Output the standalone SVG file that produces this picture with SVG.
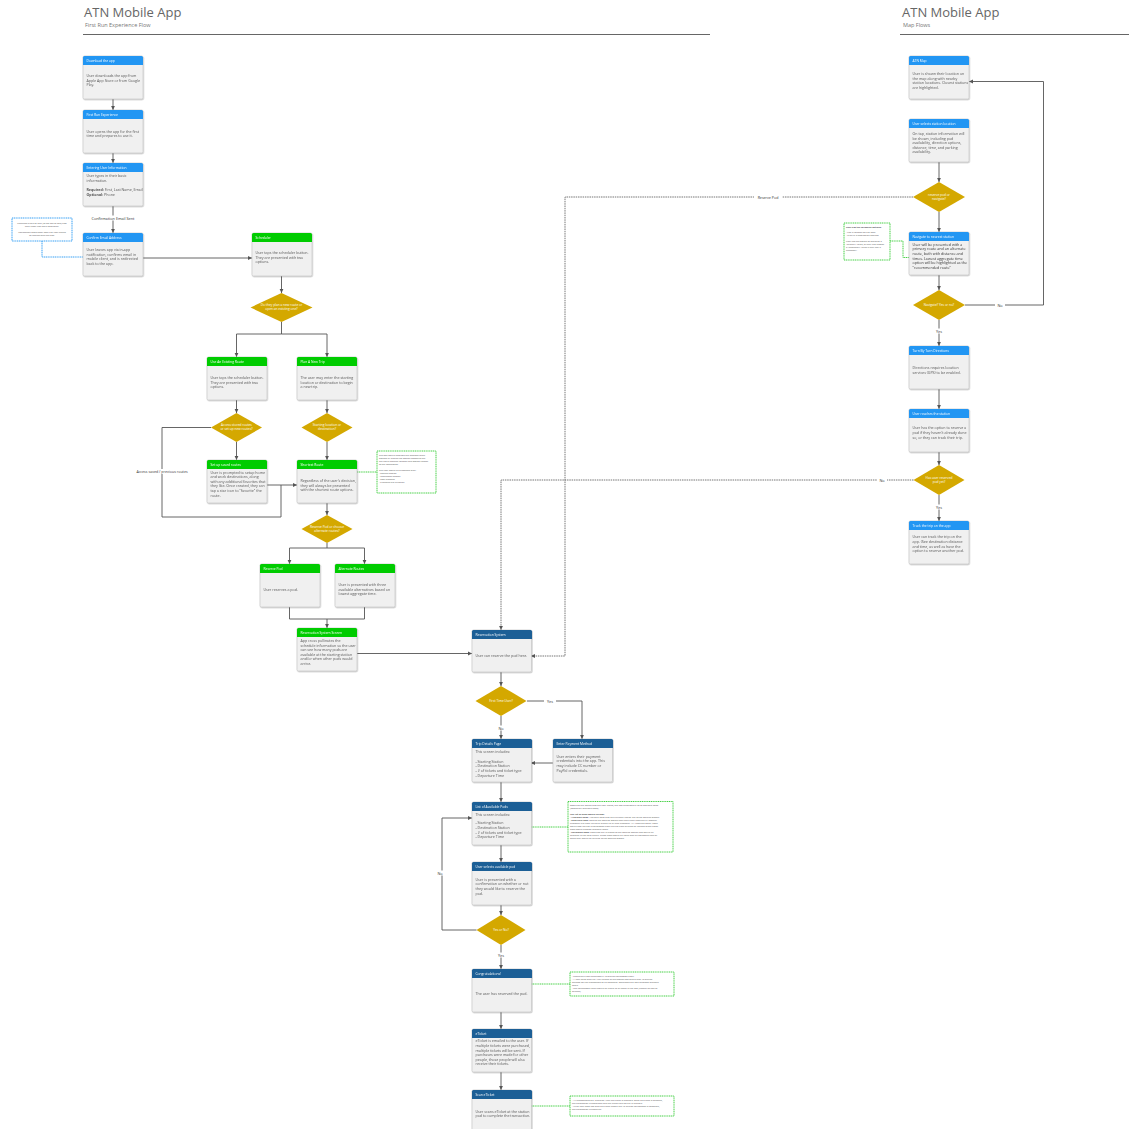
<svg xmlns="http://www.w3.org/2000/svg" xmlns:xlink="http://www.w3.org/1999/xlink" width="1129" height="1129" viewBox="0 0 1129 1129">
<style>
text{font-family:"Open Sans","Liberation Sans",sans-serif}
.card{fill:#f0f0f0;stroke:#c4c4c4;stroke-width:0.6}
.blue{fill:#2196f3}.green{fill:#00cc00}.navy{fill:#1a5e96}
.h{font-size:3.3px;fill:#fff}
.b{font-size:3.6px;fill:#555}
.bd{font-size:3.7px;fill:#333}
.dt{font-size:3.2px;fill:#fff;text-anchor:middle}
.dia{fill:#d4a800}
.c{fill:none;stroke:#555;stroke-width:0.9}
.dash{fill:none;stroke:#666;stroke-width:0.9;stroke-dasharray:1.5,0.8}
.gd{fill:none;stroke:#33cc33;stroke-width:0.9;stroke-dasharray:1.2,0.6}
.bdl{fill:none;stroke:#2196f3;stroke-width:0.9;stroke-dasharray:1.2,0.6}
.gn{fill:#fff;stroke:#33cc33;stroke-width:0.9;stroke-dasharray:1.2,0.6}
.bn{fill:#fff;stroke:#2196f3;stroke-width:0.9;stroke-dasharray:1.2,0.6}
.n{font-size:2.3px;fill:#555}
.l{font-size:3.8px;fill:#333;text-anchor:middle}
.lb{fill:#fff}
.t1{font-size:13px;fill:#666}
.t2{font-size:5.5px;fill:#777}
</style>
<defs>
<filter id="sh" x="-10%" y="-10%" width="130%" height="130%"><feDropShadow dx="0.5" dy="0.8" stdDeviation="0.6" flood-color="#000" flood-opacity="0.3"/></filter>
<marker id="ar" markerUnits="userSpaceOnUse" markerWidth="5" markerHeight="5" refX="4" refY="2.5" orient="auto"><path d="M0,0.6 L4,2.5 L0,4.4 Z" fill="#555"/></marker>
<path id="hd" d="M0,9 V1.5 Q0,0 1.5,0 H58.5 Q60,0 60,1.5 V9 Z"/>
</defs>

<g id="titles">
<text class="t1" x="84" y="17">ATN Mobile App</text>
<text class="t2" x="85" y="27">First Run Experience Flow</text>
<line x1="83" y1="34.5" x2="710" y2="34.5" stroke="#666" stroke-width="1.2"/>
<text class="t1" x="902" y="17">ATN Mobile App</text>
<text class="t2" x="903" y="27">Map Flows</text>
<line x1="900" y1="34.5" x2="1129" y2="34.5" stroke="#666" stroke-width="1.2"/>
</g>

<g id="connectors">
<path class="c" d="M113,99 V110" marker-end="url(#ar)"/>
<path class="c" d="M113,153 V163" marker-end="url(#ar)"/>
<path class="c" d="M113,206 V233" marker-end="url(#ar)"/>
<rect class="lb" x="92" y="215.5" width="42" height="5"/>
<text class="l" x="113" y="219.5">Confirmation Email Sent</text>
<path class="c" d="M143,258 H252" marker-end="url(#ar)"/>
<path class="bdl" d="M42,241 V257 H83"/>
<path class="c" d="M281.5,276 V293" marker-end="url(#ar)"/>
<path class="c" d="M281.5,322 V334 H236.5 V357" marker-end="url(#ar)"/>
<path class="c" d="M281.5,334 H327 V357" marker-end="url(#ar)"/>
<path class="c" d="M236.5,400 V413" marker-end="url(#ar)"/>
<path class="c" d="M327,400 V413" marker-end="url(#ar)"/>
<path class="c" d="M236.5,442 V460" marker-end="url(#ar)"/>
<path class="c" d="M327,442 V460" marker-end="url(#ar)"/>
<path class="c" d="M211,427.5 H162 V517 H281 V485"/>
<path class="c" d="M267,485 H297" marker-end="url(#ar)" stroke="#222" stroke-width="1.1"/>
<rect class="lb" x="136" y="469" width="52" height="5"/>
<text class="l" x="162" y="473" style="font-size:3.6px">Access saved / previous routes</text>
<path class="gd" d="M357,472 H377"/>
<path class="c" d="M327,503 V515" marker-end="url(#ar)"/>
<path class="c" d="M327,543 V548 H289.5 V564" marker-end="url(#ar)"/>
<path class="c" d="M327,548 H364.5 V564" marker-end="url(#ar)"/>
<path class="c" d="M289.5,607 V619 H364.5 V607"/>
<path class="c" d="M327,619 V628" marker-end="url(#ar)"/>
<path class="c" d="M357,653.5 H472" marker-end="url(#ar)"/>

<path class="c" d="M939,162 V182" marker-end="url(#ar)"/>
<path class="c" d="M939,212 V232" marker-end="url(#ar)"/>
<path class="c" d="M939,275 V290" marker-end="url(#ar)"/>
<path class="c" d="M965,305 H1043.5 V81.5 H969" marker-end="url(#ar)"/>
<rect class="lb" x="995" y="302.5" width="10" height="5"/>
<text class="l" x="1000" y="306.5">No</text>
<path class="c" d="M939,320 V346" marker-end="url(#ar)"/>
<rect class="lb" x="933" y="328.5" width="12" height="5"/>
<text class="l" x="939" y="332.5">Yes</text>
<path class="c" d="M939,388 V409" marker-end="url(#ar)"/>
<path class="c" d="M939,452 V465" marker-end="url(#ar)"/>
<path class="c" d="M939,495 V521" marker-end="url(#ar)"/>
<rect class="lb" x="933" y="504.5" width="12" height="5"/>
<text class="l" x="939" y="508.5">Yes</text>
<path class="gd" d="M890,241 H903 V257.5 H909"/>
<path class="dash" d="M913,197 H565 V656 H531" marker-end="url(#ar)"/>
<rect class="lb" x="754" y="194.5" width="28" height="5"/>
<text class="l" x="768" y="198.5" style="font-size:3.6px">Reserve Pod</text>
<path class="dash" d="M913.5,480 H501 V630" marker-end="url(#ar)"/>
<rect class="lb" x="877" y="477.5" width="10" height="5"/>
<text class="l" x="882" y="481.5">No</text>

<path class="c" d="M501,672 V686" marker-end="url(#ar)"/>
<path class="c" d="M527,701 H582 V739" marker-end="url(#ar)"/>
<rect class="lb" x="544" y="698.5" width="12" height="5"/>
<text class="l" x="550" y="702.5">Yes</text>
<path class="c" d="M501,716 V739" marker-end="url(#ar)"/>
<rect class="lb" x="496" y="725.5" width="10" height="5"/>
<text class="l" x="501" y="729.5">No</text>
<path class="c" d="M553,763 H531" marker-end="url(#ar)" stroke="#222" stroke-width="1.1"/>
<path class="c" d="M501,782 V802" marker-end="url(#ar)"/>
<path class="gd" d="M531,827 H568"/>
<path class="c" d="M501,845 V862" marker-end="url(#ar)"/>
<path class="c" d="M501,905 V915" marker-end="url(#ar)"/>
<path class="c" d="M476.5,930 H442 V818 H472" marker-end="url(#ar)"/>
<rect class="lb" x="435" y="870.5" width="10" height="5"/>
<text class="l" x="440" y="874.5">No</text>
<path class="c" d="M501,945 V969" marker-end="url(#ar)"/>
<rect class="lb" x="495" y="952.5" width="12" height="5"/>
<text class="l" x="501" y="956.5">Yes</text>
<path class="gd" d="M531,984 H570"/>
<path class="c" d="M501,1012 V1029" marker-end="url(#ar)"/>
<path class="c" d="M501,1072 V1090" marker-end="url(#ar)"/>
<path class="gd" d="M531,1106 H570"/>
</g>

<!-- Left column nodes -->
<g id="n1" transform="translate(83,56)" filter="url(#sh)">
<rect class="card" width="60" height="43" rx="1.5"/><use href="#hd" class="blue"/>
<text class="h" x="3.5" y="6">Download the app</text>
<text class="b"><tspan x="3.5" y="21">User downloads the app from</tspan><tspan x="3.5" y="25.6">Apple App Store or from Google</tspan><tspan x="3.5" y="30.2">Play.</tspan></text>
</g>
<g id="n2" transform="translate(83,110)" filter="url(#sh)">
<rect class="card" width="60" height="43" rx="1.5"/><use href="#hd" class="blue"/>
<text class="h" x="3.5" y="6">First Run Experience</text>
<text class="b"><tspan x="3.5" y="22.7">User opens the app for the first</tspan><tspan x="3.5" y="27.3">time and prepares to use it.</tspan></text>
</g>
<g id="n3" transform="translate(83,163)" filter="url(#sh)">
<rect class="card" width="60" height="43" rx="1.5"/><use href="#hd" class="blue"/>
<text class="h" x="3.5" y="6">Entering User Information</text>
<text class="b"><tspan x="3.5" y="14">User types in their basic</tspan><tspan x="3.5" y="18.6">information.</tspan><tspan x="3.5" y="28"><tspan font-weight="bold">Required:</tspan> First, Last Name, Email</tspan><tspan x="3.5" y="32.6"><tspan font-weight="bold">Optional:</tspan> Phone</tspan></text>
</g>
<g id="note-email">
<rect class="bn" x="12" y="218" width="60" height="23"/>
<text class="n" text-anchor="middle"><tspan x="42" y="224">Feedback given to user (at the top of app) that</tspan><tspan x="42" y="227">their email has been confirmed.</tspan><tspan x="42" y="233">Notification fades away after the user begins</tspan><tspan x="42" y="236">to interact with the app.</tspan></text>
</g>
<g id="n4" transform="translate(83,233)" filter="url(#sh)">
<rect class="card" width="60" height="43" rx="1.5"/><use href="#hd" class="blue"/>
<text class="h" x="3.5" y="6">Confirm Email Address</text>
<text class="b"><tspan x="3.5" y="18">User leaves app via in-app</tspan><tspan x="3.5" y="22.6">notification, confirms email in</tspan><tspan x="3.5" y="27.2">mobile client, and is redirected</tspan><tspan x="3.5" y="31.8">back to the app.</tspan></text>
</g>
<g id="n5" transform="translate(252,233)" filter="url(#sh)">
<rect class="card" width="60" height="43" rx="1.5"/><use href="#hd" class="green"/>
<text class="h" x="3.5" y="6">Scheduler</text>
<text class="b"><tspan x="3.5" y="21">User taps the scheduler button.</tspan><tspan x="3.5" y="25.6">They are presented with two</tspan><tspan x="3.5" y="30.2">options.</tspan></text>
</g>
<g id="d1"><polygon class="dia" points="281.5,293 312.5,307.5 281.5,322 250.5,307.5"/>
<text class="dt"><tspan x="281.5" y="306.3">Do they plan a new route or</tspan><tspan x="281.5" y="310.3">open an existing one?</tspan></text></g>
<g id="n6" transform="translate(207,357)" filter="url(#sh)">
<rect class="card" width="60" height="43" rx="1.5"/><use href="#hd" class="green"/>
<text class="h" x="3.5" y="6">Use An Existing Route</text>
<text class="b"><tspan x="3.5" y="22">User taps the scheduler button.</tspan><tspan x="3.5" y="26.6">They are presented with two</tspan><tspan x="3.5" y="31.2">options.</tspan></text>
</g>
<g id="n7" transform="translate(297,357)" filter="url(#sh)">
<rect class="card" width="60" height="43" rx="1.5"/><use href="#hd" class="green"/>
<text class="h" x="3.5" y="6">Plan A New Trip</text>
<text class="b"><tspan x="3.5" y="22">The user may enter the starting</tspan><tspan x="3.5" y="26.6">location or destination to begin</tspan><tspan x="3.5" y="31.2">a new trip.</tspan></text>
</g>
<g id="d2"><polygon class="dia" points="236.5,413 262,427.5 236.5,442 211,427.5"/>
<text class="dt"><tspan x="236.5" y="426.3">Access stored routes</tspan><tspan x="236.5" y="430.3">or set up new routes?</tspan></text></g>
<g id="d3"><polygon class="dia" points="327,413 352.5,427.5 327,442 301.5,427.5"/>
<text class="dt"><tspan x="327" y="426.3">Starting location or</tspan><tspan x="327" y="430.3">destination?</tspan></text></g>
<g id="n8" transform="translate(207,460)" filter="url(#sh)">
<rect class="card" width="60" height="43" rx="1.5"/><use href="#hd" class="green"/>
<text class="h" x="3.5" y="6">Set up saved routes</text>
<text class="b"><tspan x="3.5" y="13.5">User is prompted to setup home</tspan><tspan x="3.5" y="18.1">and work destinations, along</tspan><tspan x="3.5" y="22.7">with any additional favorites that</tspan><tspan x="3.5" y="27.3">they like. Once created, they can</tspan><tspan x="3.5" y="31.9">tap a star icon to "favorite" the</tspan><tspan x="3.5" y="36.5">route.</tspan></text>
</g>
<g id="n9" transform="translate(297,460)" filter="url(#sh)">
<rect class="card" width="60" height="43" rx="1.5"/><use href="#hd" class="green"/>
<text class="h" x="3.5" y="6">Shortest Route</text>
<text class="b"><tspan x="3.5" y="22">Regardless of the user's decision,</tspan><tspan x="3.5" y="26.6">they will always be presented</tspan><tspan x="3.5" y="31.2">with the shortest route options.</tspan></text>
</g>
<g id="note-shortest">
<rect class="gn" x="377" y="451" width="59" height="42"/>
<text class="n"><tspan x="379" y="456">The app would generate the shortest route</tspan><tspan x="379" y="459">options by finding the station closest to the</tspan><tspan x="379" y="462">the user's starting location and station closest</tspan><tspan x="379" y="465">to the destination.</tspan><tspan x="379" y="471">The user would be presented with:</tspan><tspan x="379" y="474">- starting station</tspan><tspan x="379" y="477">- destination station</tspan><tspan x="379" y="480">- total distance</tspan><tspan x="379" y="483">- expected trip duration</tspan></text>
</g>
<g id="d4"><polygon class="dia" points="327,515 352.5,529 327,543 301.5,529"/>
<text class="dt"><tspan x="327" y="527.8">Reserve Pod or choose</tspan><tspan x="327" y="531.8">alternate routes?</tspan></text></g>
<g id="n10" transform="translate(260,564)" filter="url(#sh)">
<rect class="card" width="60" height="43" rx="1.5"/><use href="#hd" class="green"/>
<text class="h" x="3.5" y="6">Reserve Pod</text>
<text class="b"><tspan x="3.5" y="26.5">User reserves a pod.</tspan></text>
</g>
<g id="n11" transform="translate(335,564)" filter="url(#sh)">
<rect class="card" width="60" height="43" rx="1.5"/><use href="#hd" class="green"/>
<text class="h" x="3.5" y="6">Alternate Routes</text>
<text class="b"><tspan x="3.5" y="22">User is presented with three</tspan><tspan x="3.5" y="26.6">available alternatives based on</tspan><tspan x="3.5" y="31.2">lowest aggregate time.</tspan></text>
</g>
<g id="n12" transform="translate(297,628)" filter="url(#sh)">
<rect class="card" width="60" height="43" rx="1.5"/><use href="#hd" class="green"/>
<text class="h" x="3.5" y="6">Reservation System Screen</text>
<text class="b"><tspan x="3.5" y="14">App cross pollinates the</tspan><tspan x="3.5" y="18.6">schedule information so the user</tspan><tspan x="3.5" y="23.2">can see how many pods are</tspan><tspan x="3.5" y="27.8">available at the starting station</tspan><tspan x="3.5" y="32.4">and/or when other pods would</tspan><tspan x="3.5" y="37">arrive.</tspan></text>
</g>

<!-- Right column -->
<g id="r1" transform="translate(909,56)" filter="url(#sh)">
<rect class="card" width="60" height="43" rx="1.5"/><use href="#hd" class="blue"/>
<text class="h" x="3.5" y="6">ATN Map</text>
<text class="b"><tspan x="3.5" y="19">User is shown their location on</tspan><tspan x="3.5" y="23.6">the map along with nearby</tspan><tspan x="3.5" y="28.2">station locations. Closest stations</tspan><tspan x="3.5" y="32.8">are highlighted.</tspan></text>
</g>
<g id="r2" transform="translate(909,119)" filter="url(#sh)">
<rect class="card" width="60" height="43" rx="1.5"/><use href="#hd" class="blue"/>
<text class="h" x="3.5" y="6">User selects station location</text>
<text class="b"><tspan x="3.5" y="16">On tap, station information will</tspan><tspan x="3.5" y="20.6">be shown, including pod</tspan><tspan x="3.5" y="25.2">availability, direction options,</tspan><tspan x="3.5" y="29.8">distance, time, and parking</tspan><tspan x="3.5" y="34.4">availability.</tspan></text>
</g>
<g id="rd1"><polygon class="dia" points="939,182 965,197 939,212 913,197"/>
<text class="dt"><tspan x="939" y="195.8">reserve pod or</tspan><tspan x="939" y="199.8">navigate?</tspan></text></g>
<g id="note-nav">
<rect class="gn" x="844" y="223" width="46" height="37"/>
<text class="n"><tspan x="846" y="228" font-weight="bold">User has the following options:</tspan><tspan x="846" y="233">- Use a location on the map</tspan><tspan x="846" y="236">- Type in a destination address</tspan><tspan x="846" y="242">User has the option of selecting a</tspan><tspan x="846" y="245">"primary" route, or they can choose</tspan><tspan x="846" y="248">a "secondary" route if they feel it</tspan><tspan x="846" y="251">necessary.</tspan></text>
</g>
<g id="r3" transform="translate(909,232)" filter="url(#sh)">
<rect class="card" width="60" height="43" rx="1.5"/><use href="#hd" class="blue"/>
<text class="h" x="3.5" y="6">Navigate to nearest station</text>
<text class="bd"><tspan x="3.5" y="13.7">User will be presented with a</tspan><tspan x="3.5" y="18.3">primary route and an alternate</tspan><tspan x="3.5" y="22.9">route, both with distance and</tspan><tspan x="3.5" y="27.5">times. Lowest aggregate time</tspan><tspan x="3.5" y="32.1">option will be highlighted as the</tspan><tspan x="3.5" y="36.7">"recommended route"</tspan></text>
</g>
<g id="rd2"><polygon class="dia" points="939,290 965,305 939,320 913,305"/>
<text class="dt"><tspan x="939" y="306.1">Navigate? Yes or no?</tspan></text></g>
<g id="r4" transform="translate(909,346)" filter="url(#sh)">
<rect class="card" width="60" height="43" rx="1.5"/><use href="#hd" class="blue"/>
<text class="h" x="3.5" y="6">Turn By Turn Directions</text>
<text class="b"><tspan x="3.5" y="23">Directions requires location</tspan><tspan x="3.5" y="27.6">services (GPS) to be enabled.</tspan></text>
</g>
<g id="r5" transform="translate(909,409)" filter="url(#sh)">
<rect class="card" width="60" height="43" rx="1.5"/><use href="#hd" class="blue"/>
<text class="h" x="3.5" y="6">User reaches the station</text>
<text class="b"><tspan x="3.5" y="20.3">User has the option to reserve a</tspan><tspan x="3.5" y="24.9">pod if they haven't already done</tspan><tspan x="3.5" y="29.5">so, or they can track their trip.</tspan></text>
</g>
<g id="rd3"><polygon class="dia" points="939,465 964.5,480 939,495 913.5,480"/>
<text class="dt"><tspan x="939" y="478.8">Has user reserved</tspan><tspan x="939" y="482.8">pod yet?</tspan></text></g>
<g id="r6" transform="translate(909,521)" filter="url(#sh)">
<rect class="card" width="60" height="43" rx="1.5"/><use href="#hd" class="blue"/>
<text class="h" x="3.5" y="6">Track the trip on the app</text>
<text class="b"><tspan x="3.5" y="17.3">User can track the trip on the</tspan><tspan x="3.5" y="21.9">app. (See destination distance</tspan><tspan x="3.5" y="26.5">and time, as well as have the</tspan><tspan x="3.5" y="31.1">option to reserve another pod.</tspan></text>
</g>

<!-- Center column -->
<g id="c1" transform="translate(472,630)" filter="url(#sh)">
<rect class="card" width="59.5" height="42" rx="1.5"/><use href="#hd" class="navy"/>
<text class="h" x="3.5" y="6">Reservation System</text>
<text class="b"><tspan x="3.5" y="26.5">User can reserve the pod here.</tspan></text>
</g>
<g id="cd1"><polygon class="dia" points="501,686 526.5,701 501,716 475.5,701"/>
<text class="dt"><tspan x="501" y="702.1">First Time User?</tspan></text></g>
<g id="c2" transform="translate(472,739)" filter="url(#sh)">
<rect class="card" width="59.5" height="43" rx="1.5"/><use href="#hd" class="navy"/>
<text class="h" x="3.5" y="6">Trip Details Page</text>
<text class="b"><tspan x="3.5" y="14">This screen includes:</tspan><tspan x="3.5" y="23.7">- Starting Station</tspan><tspan x="3.5" y="28.3">- Destination Station</tspan><tspan x="3.5" y="32.9">- # of tickets and ticket type</tspan><tspan x="3.5" y="37.5">- Departure Time</tspan></text>
</g>
<g id="c3" transform="translate(553,739)" filter="url(#sh)">
<rect class="card" width="59.5" height="43" rx="1.5"/><use href="#hd" class="navy"/>
<text class="h" x="3.5" y="6">Enter Payment Method</text>
<text class="b"><tspan x="3.5" y="18.7">User enters their payment</tspan><tspan x="3.5" y="23.3">credentials into the app. This</tspan><tspan x="3.5" y="27.9">may include CC number or</tspan><tspan x="3.5" y="32.5">PayPal credentials.</tspan></text>
</g>
<g id="c4" transform="translate(472,802)" filter="url(#sh)">
<rect class="card" width="59.5" height="43" rx="1.5"/><use href="#hd" class="navy"/>
<text class="h" x="3.5" y="6">List of Available Pods</text>
<text class="b"><tspan x="3.5" y="13.7">This screen includes:</tspan><tspan x="3.5" y="22.3">- Starting Station</tspan><tspan x="3.5" y="26.9">- Destination Station</tspan><tspan x="3.5" y="31.5">- # of tickets and ticket type</tspan><tspan x="3.5" y="36.1">- Departure Time</tspan></text>
</g>
<g id="note-pods">
<rect class="gn" x="568" y="801.5" width="105" height="50.5"/>
<text class="n"><tspan x="570" y="806">Based on the details that the user inputs, the app generates a list of available pods</tspan><tspan x="570" y="809">(potentially available pods).</tspan><tspan x="570" y="815" font-weight="bold">The list of pods would include:</tspan><tspan x="570" y="818"><tspan font-weight="bold">- Available pods:</tspan> Available pods that are currently sitting idle at the starting station.</tspan><tspan x="570" y="821"><tspan font-weight="bold">- Reserved Pods:</tspan> pods at the starting station that have been reserved by another</tspan><tspan x="570" y="824">customer but have yet to be picked up by that customer. All "reserved pods" listed</tspan><tspan x="570" y="827">would also include a countdown clock next to each of them to indicate when those</tspan><tspan x="570" y="830">pods would become available again.</tspan><tspan x="570" y="833"><tspan font-weight="bold">- Upcoming pods:</tspan> pods that are in transit to the starting station and would be</tspan><tspan x="570" y="836">available in the near future. These pods would be listed with an estimated time of</tspan><tspan x="570" y="839">when they would be arriving at the starting station.</tspan></text>
</g>
<g id="c5" transform="translate(472,862)" filter="url(#sh)">
<rect class="card" width="59.5" height="43" rx="1.5"/><use href="#hd" class="navy"/>
<text class="h" x="3.5" y="6">User selects available pod</text>
<text class="b"><tspan x="3.5" y="18.7">User is presented with a</tspan><tspan x="3.5" y="23.3">confirmation on whether or not</tspan><tspan x="3.5" y="27.9">they would like to reserve the</tspan><tspan x="3.5" y="32.5">pod.</tspan></text>
</g>
<g id="cd2"><polygon class="dia" points="501,915 525.5,930 501,945 476.5,930"/>
<text class="dt"><tspan x="501" y="931.1">Yes or No?</tspan></text></g>
<g id="c6" transform="translate(472,969)" filter="url(#sh)">
<rect class="card" width="59.5" height="43" rx="1.5"/><use href="#hd" class="navy"/>
<text class="h" x="3.5" y="6">Congratulations!</text>
<text class="b"><tspan x="3.5" y="26">The user has reserved the pod.</tspan></text>
</g>
<g id="note-congrats">
<rect class="gn" x="570" y="972" width="104" height="24"/>
<text class="n"><tspan x="572" y="976.5">- Reserving a pod generates a 10 minute countdown clock.</tspan><tspan x="572" y="979.5">- A user must scan his / her eTicket at the station pod within that 10 minute</tspan><tspan x="572" y="982.5">window for the transaction to be complete. Otherwise the pod becomes available</tspan><tspan x="572" y="985.5">again.</tspan><tspan x="572" y="988.5">- The countdown clock should be visible at all times in the app (banner on top of</tspan><tspan x="572" y="991.5">screen?)</tspan></text>
</g>
<g id="c7" transform="translate(472,1029)" filter="url(#sh)">
<rect class="card" width="59.5" height="43" rx="1.5"/><use href="#hd" class="navy"/>
<text class="h" x="3.5" y="6">eTicket</text>
<text class="b"><tspan x="3.5" y="13.3">eTicket is emailed to the user. If</tspan><tspan x="3.5" y="17.9">multiple tickets were purchased,</tspan><tspan x="3.5" y="22.5">multiple tickets will be sent. If</tspan><tspan x="3.5" y="27.1">purchases were made for other</tspan><tspan x="3.5" y="31.7">people, those people will also</tspan><tspan x="3.5" y="36.3">receive their tickets.</tspan></text>
</g>
<g id="c8" transform="translate(472,1090)" filter="url(#sh)">
<rect class="card" width="59.5" height="43" rx="1.5"/><use href="#hd" class="navy"/>
<text class="h" x="3.5" y="6">Scan eTicket</text>
<text class="b"><tspan x="3.5" y="22.7">User scans eTicket at the station</tspan><tspan x="3.5" y="27.3">pod to complete the transaction.</tspan></text>
</g>
<g id="note-scan">
<rect class="gn" x="570" y="1096" width="104" height="20"/>
<text class="n"><tspan x="572" y="1100.5">- All transactions are "pending" until the ticket is scanned. Once the ticket is scanned,</tspan><tspan x="572" y="1103.5">the transaction is completed and the credit card on file is charged.</tspan><tspan x="572" y="1106.5">- If the user does not scan the ticket before the 10 minute countdown is complete,</tspan><tspan x="572" y="1109.5">the transaction is cancelled.</tspan></text>
</g>
</svg>
